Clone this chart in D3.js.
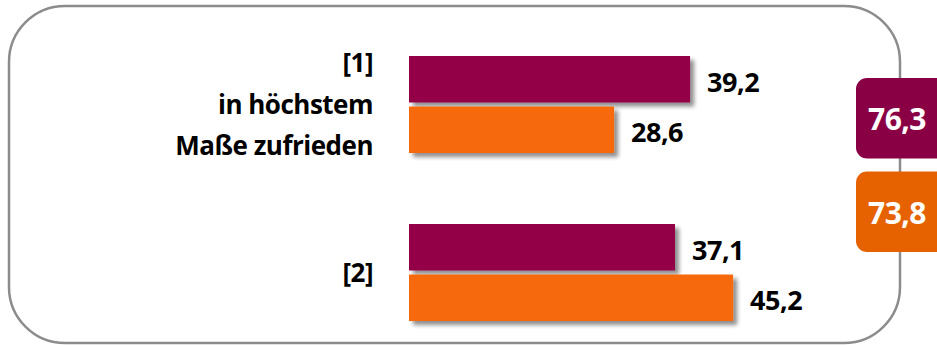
<!DOCTYPE html>
<html>
<head>
<meta charset="utf-8">
<script src="https://cdn.jsdelivr.net/npm/d3@7"></script>
<style>
  body { margin: 0; background: #fff; }
  text { font-family: "Open Sans", sans-serif; font-weight: bold; letter-spacing: -0.5px; }
</style>
</head>
<body>
<div id="chart"></div>
<script>
//Chart data
var categories = ["[1]", "[2]"];
var categoryLines = [["[1]", "in höchstem", "Maße zufrieden"], ["[2]"]];
var seriesNames = ["a", "b"];
var seriesA = [39.2, 37.1];
var seriesB = [28.6, 45.2];
var totals = [76.3, 73.8];

var barColors = { a: "#940046", b: "#F66A07" };
var boxColors = ["#8A0044", "#E66200"];

var width = 937, height = 345;

var svg = d3.select("#chart").append("svg")
  .attr("width", width)
  .attr("height", height);

//Shadow behind the bars
var defs = svg.append("defs");
var filter = defs.append("filter").attr("id", "shadow")
  .attr("x", "-5%").attr("y", "-20%").attr("width", "115%").attr("height", "150%");
filter.append("feGaussianBlur").attr("in", "SourceAlpha").attr("stdDeviation", 2);
filter.append("feOffset").attr("dx", 4).attr("dy", 4).attr("result", "off");
filter.append("feComponentTransfer").append("feFuncA").attr("type", "linear").attr("slope", 0.45);
var merge = filter.append("feMerge");
merge.append("feMergeNode");
merge.append("feMergeNode").attr("in", "SourceGraphic");

//Rounded frame
svg.append("rect")
  .attr("x", 9).attr("y", 6)
  .attr("width", 891).attr("height", 337)
  .attr("rx", 56).attr("ry", 56)
  .attr("fill", "none")
  .attr("stroke", "#8c8c8c")
  .attr("stroke-width", 2.5);

//Scales
var x = d3.scaleLinear().domain([0, 50]).range([409, 409 + 358.5]);
var y0 = d3.scaleBand().domain(categories).range([56, 321]).paddingInner(0.4226);
var y1 = d3.scaleBand().domain(seriesNames).range([0, y0.bandwidth()]).paddingInner(0.08);

var rows = [];
categories.forEach(function (c, i) {
  rows.push({ cat: c, s: "a", value: seriesA[i] });
  rows.push({ cat: c, s: "b", value: seriesB[i] });
});

//Bars
svg.append("g").selectAll("rect")
  .data(rows)
  .enter()
  .append("rect")
  .attr("x", x(0))
  .attr("y", function (d) { return y0(d.cat) + y1(d.s); })
  .attr("width", function (d) { return x(d.value) - x(0); })
  .attr("height", y1.bandwidth())
  .attr("fill", function (d) { return barColors[d.s]; })
  .attr("filter", "url(#shadow)");

//Value labels
svg.append("g").selectAll("text")
  .data(rows)
  .enter()
  .append("text")
  .attr("x", function (d) { return x(d.value) + 17; })
  .attr("y", function (d) { return y0(d.cat) + y1(d.s) + y1.bandwidth() / 2 + 3; })
  .attr("dy", "0.36em")
  .style("font-size", "27px")
  .attr("fill", "#000")
  .text(function (d) { return d3.format(".1f")(d.value).replace(".", ","); });

//Category labels
categories.forEach(function (c, i) {
  var lines = categoryLines[i];
  var lh = 41.5;
  var cy = y0(c) + y0.bandwidth() / 2;
  svg.append("g").selectAll("text")
    .data(lines)
    .enter()
    .append("text")
    .attr("x", 373)
    .attr("y", function (d, j) { return cy + (j - (lines.length - 1) / 2) * lh; })
    .attr("dy", "0.36em")
    .attr("text-anchor", "end")
    .style("font-size", "26px")
    .attr("fill", "#000")
    .text(function (d) { return d; });
});

//Total boxes on the right
var boxY = d3.scaleBand().domain(categories).range([78, 252]).paddingInner(0.14);
var boxes = svg.append("g").selectAll("g")
  .data(totals)
  .enter()
  .append("g");
boxes.append("rect")
  .attr("x", 856)
  .attr("y", function (d, i) { return boxY(categories[i]); })
  .attr("width", 110)
  .attr("height", boxY.bandwidth())
  .attr("rx", 11).attr("ry", 11)
  .attr("fill", function (d, i) { return boxColors[i]; });
boxes.append("text")
  .attr("x", 868)
  .attr("y", function (d, i) { return boxY(categories[i]) + boxY.bandwidth() / 2 + 1; })
  .attr("dy", "0.36em")
  .style("font-size", "30px")
  .attr("fill", "#fff")
  .text(function (d) { return d3.format(".1f")(d).replace(".", ","); });
</script>
</body>
</html>
